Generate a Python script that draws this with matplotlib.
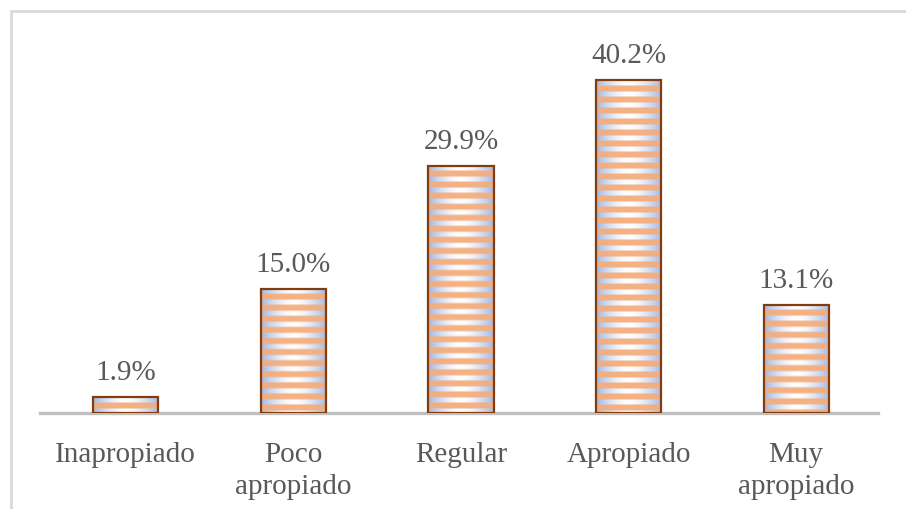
import numpy as np
import matplotlib
matplotlib.use("Agg")
import matplotlib.pyplot as plt
from matplotlib.patches import Rectangle

categories = ["Inapropiado", "Poco\napropiado", "Regular", "Apropiado", "Muy\napropiado"]
values = [1.9, 15.0, 29.9, 40.2, 13.1]
labels = ["1.9%", "15.0%", "29.9%", "40.2%", "13.1%"]

plt.rcParams["font.family"] = ["Liberation Serif", "DejaVu Serif"]
text_color = "#595959"
edge_color = "#843C0C"
blue = np.array([160, 184, 232]) / 255
white = np.array([255, 255, 255]) / 255
orange = np.array([244, 172, 122]) / 255

fig = plt.figure(figsize=(9.06, 5.10), dpi=100)
ax = fig.add_axes([40 / 906, 96 / 510, 838 / 906, 384 / 510])
ymax = 46.4
ax.set_xlim(-0.5, len(values) - 0.5)
ax.set_ylim(0, ymax)

# outer chart frame (runs off the right and bottom edges)
fig.patches.append(Rectangle((10.5 / 906, -0.2), 2, 1.2 - 11.5 / 510,
                             transform=fig.transFigure, fill=False,
                             edgecolor="#D9D9D9", linewidth=2, zorder=0))

px_per_unit = 384 / ymax
width = 0.39
period = 11.0


def striped_fill(h_units, ncols=64):
    nrows = max(int(round(h_units * px_per_unit)), 2)
    x = np.linspace(-1, 1, ncols)
    g = np.abs(x) ** 1.6
    base = white[None, :] * (1 - g[:, None]) + blue[None, :] * g[:, None]
    t = np.arange(nrows) + 0.5
    s = 0.5 - 0.5 * np.cos(2 * np.pi * (t - 3) / period)
    w = np.clip(2.0 * s - 0.35, 0, 1) * 0.92
    img = w[:, None, None] * orange[None, None, :] + (1 - w[:, None, None]) * base[None, :, :]
    return img


for i, v in enumerate(values):
    x0 = i - width / 2 + 0.012
    ax.imshow(striped_fill(v), extent=(x0, x0 + width, 0, v), origin="upper",
              aspect="auto", interpolation="bilinear", zorder=2)
    ax.add_patch(Rectangle((x0, 0), width, v, fill=False, edgecolor=edge_color,
                           linewidth=1.6, zorder=3))
    ax.text(i + 0.012, v + 18 / px_per_unit, labels[i], ha="center", va="baseline",
            fontsize=21, color=text_color)

ax.set_xticks([i + 0.012 for i in range(len(values))])
ax.set_xticklabels(categories, fontsize=21, color=text_color, linespacing=1.3)
ax.tick_params(axis="x", length=0, pad=20)
ax.set_yticks([])
for side in ["top", "right", "left"]:
    ax.spines[side].set_visible(False)
ax.spines["bottom"].set_color("#BFBFBF")
ax.spines["bottom"].set_linewidth(2.4)
ax.spines["bottom"].set_zorder(1)

fig.savefig("out.png", dpi=100)
